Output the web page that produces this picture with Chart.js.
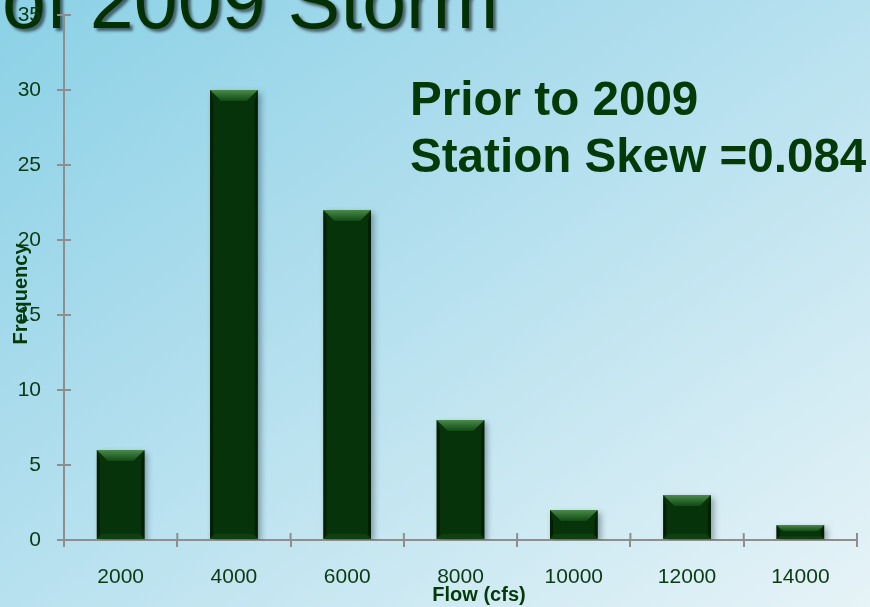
<!DOCTYPE html>
<html>
<head>
<meta charset="utf-8">
<script src="https://cdn.jsdelivr.net/npm/chart.js@4/dist/chart.umd.min.js"></script>
<style>
  html, body { margin: 0; padding: 0; }
  body {
    width: 870px; height: 607px; overflow: hidden;
    background: linear-gradient(to bottom right, #8bd1e6 0%, #b3dfee 45%, #e6f3f7 100%);
  }
  #wrap { position: relative; width: 870px; height: 607px; }
</style>
</head>
<body>
<div id="wrap"><canvas id="flowChart"></canvas></div>
<script>
// histogram of annual peak flow
var flowBins = ['2000', '4000', '6000', '8000', '10000', '12000', '14000'];
var frequency = [6, 30, 22, 8, 2, 3, 1];
var yMax = 35;
var yStep = 5;

var textGreen = '#0b3a12';
var axisGrey = '#8e8e8e';

// page heading (partly cut off at the top) and the skew note
var bgText = {
    id: 'bgText',
    beforeDraw: function(chart) {
        var ctx = chart.ctx;
        ctx.save();
        ctx.font = '79px "Liberation Sans", Arial, sans-serif';
        ctx.textBaseline = 'alphabetic';
        ctx.textAlign = 'left';
        ctx.shadowColor = 'rgba(0, 0, 0, 0.55)';
        ctx.shadowBlur = 3;
        ctx.shadowOffsetX = 3;
        ctx.shadowOffsetY = 3;
        ctx.fillStyle = '#033003';
        ctx.fillText('of 2009 Storm', 2, 28);
        ctx.restore();

        ctx.save();
        ctx.font = 'bold 47.6px "Liberation Sans", Arial, sans-serif';
        ctx.fillStyle = '#033a08';
        ctx.textAlign = 'left';
        ctx.fillText('Prior to 2009', 410, 115);
        ctx.fillText('Station Skew =0.084', 410, 172);
        ctx.restore();
    }
};

// bevel look on the bars, plus inward halves of the tick marks
var bevelBars = {
    id: 'bevelBars',
    beforeDatasetsDraw: function(chart) {
        var ctx = chart.ctx;
        ctx.save();
        ctx.shadowColor = 'rgba(0, 20, 30, 0.35)';
        ctx.shadowBlur = 6;
        ctx.shadowOffsetX = 3;
        ctx.shadowOffsetY = 3;
    },
    afterDatasetsDraw: function(chart) {
        var ctx = chart.ctx;
        ctx.restore();
        var meta = chart.getDatasetMeta(0);
        meta.data.forEach(function(bar) {
            var p = bar.getProps(['x', 'y', 'base', 'width'], true);
            var l = p.x - p.width / 2, r = p.x + p.width / 2;
            var t = p.y, b = p.base;
            var h = b - t;
            var bt = Math.min(11, h * 0.45);
            var bs = 3;
            var bb = Math.min(5, h * 0.2);

            ctx.save();
            // top bevel
            var g = ctx.createLinearGradient(0, t, 0, t + bt);
            g.addColorStop(0, '#4b8a4b');
            g.addColorStop(0.5, '#2c6a2e');
            g.addColorStop(1, '#104a14');
            ctx.fillStyle = g;
            ctx.beginPath();
            ctx.moveTo(l, t);
            ctx.lineTo(r, t);
            ctx.lineTo(r - bt, t + bt);
            ctx.lineTo(l + bt, t + bt);
            ctx.closePath();
            ctx.fill();

            // side bevels
            ctx.fillStyle = '#021f04';
            ctx.beginPath();
            ctx.moveTo(l, t);
            ctx.lineTo(l + bs, t + bt);
            ctx.lineTo(l + bs, b - bb);
            ctx.lineTo(l, b);
            ctx.closePath();
            ctx.fill();
            ctx.beginPath();
            ctx.moveTo(r, t);
            ctx.lineTo(r - bs, t + bt);
            ctx.lineTo(r - bs, b - bb);
            ctx.lineTo(r, b);
            ctx.closePath();
            ctx.fill();

            // bottom bevel
            ctx.fillStyle = '#0f4012';
            ctx.beginPath();
            ctx.moveTo(l, b);
            ctx.lineTo(r, b);
            ctx.lineTo(r - bb, b - bb);
            ctx.lineTo(l + bb, b - bb);
            ctx.closePath();
            ctx.fill();
            ctx.restore();
        });

        var xs = chart.scales.x, ys = chart.scales.y;
        var area = chart.chartArea;
        ctx.save();
        ctx.strokeStyle = axisGrey;
        ctx.lineWidth = 2;
        ctx.beginPath();
        for (var i = 0; i <= flowBins.length; i++) {
            var px = xs.getPixelForValue(i - 0.5);
            ctx.moveTo(px, area.bottom);
            ctx.lineTo(px, area.bottom - 7);
        }
        for (var v = 0; v <= yMax; v += yStep) {
            var py = ys.getPixelForValue(v);
            ctx.moveTo(area.left, py);
            ctx.lineTo(area.left + 7, py);
        }
        ctx.stroke();
        ctx.restore();
    }
};

// axis titles, placed by hand
var axisTitles = {
    id: 'axisTitles',
    afterDraw: function(chart) {
        var ctx = chart.ctx;
        ctx.save();
        ctx.fillStyle = '#033a08';
        ctx.font = 'bold 20px "Liberation Sans", Arial, sans-serif';
        ctx.textAlign = 'center';
        ctx.textBaseline = 'middle';
        ctx.fillText('Flow (cfs)', 479, 595);
        ctx.translate(21, 294);
        ctx.rotate(-Math.PI / 2);
        ctx.fillText('Frequency', 0, 0);
        ctx.restore();
    }
};

var ctxFlow = document.getElementById('flowChart');

var flowChart = new Chart(ctxFlow, {
    type: 'bar',
    data: {
        labels: flowBins,
        datasets: [
            {
                label: 'Frequency',
                data: frequency,
                backgroundColor: '#06330a',
                borderWidth: 0,
                barPercentage: 0.42,
                categoryPercentage: 1.0
            }
        ]
    },
    options: {
        responsive: true,
        maintainAspectRatio: false,
        animation: false,
        layout: {
            padding: { top: 15, right: 13, left: 0, bottom: 0 }
        },
        plugins: {
            legend: { display: false },
            tooltip: { enabled: false }
        },
        scales: {
            x: {
                offset: true,
                grid: {
                    offset: true,
                    drawOnChartArea: false,
                    drawTicks: true,
                    tickLength: 7,
                    color: axisGrey,
                    lineWidth: 2
                },
                border: { color: axisGrey, width: 2 },
                ticks: {
                    color: textGreen,
                    padding: 18,
                    maxRotation: 0,
                    font: { family: '"Liberation Sans", Arial, sans-serif', size: 21 }
                },
                afterFit: function(scale) {
                    scale.height = 67;
                    scale.paddingLeft = 0;
                    scale.paddingRight = 0;
                }
            },
            y: {
                min: 0,
                max: yMax,
                grid: {
                    drawOnChartArea: false,
                    drawTicks: true,
                    tickLength: 7,
                    color: axisGrey,
                    lineWidth: 2
                },
                border: { color: axisGrey, width: 2 },
                ticks: {
                    stepSize: yStep,
                    color: textGreen,
                    padding: 16,
                    font: { family: '"Liberation Sans", Arial, sans-serif', size: 21 }
                },
                afterFit: function(scale) {
                    scale.width = 64;
                    scale.paddingTop = 0;
                    scale.paddingBottom = 0;
                }
            }
        }
    },
    plugins: [bgText, bevelBars, axisTitles]
});
</script>
</body>
</html>
